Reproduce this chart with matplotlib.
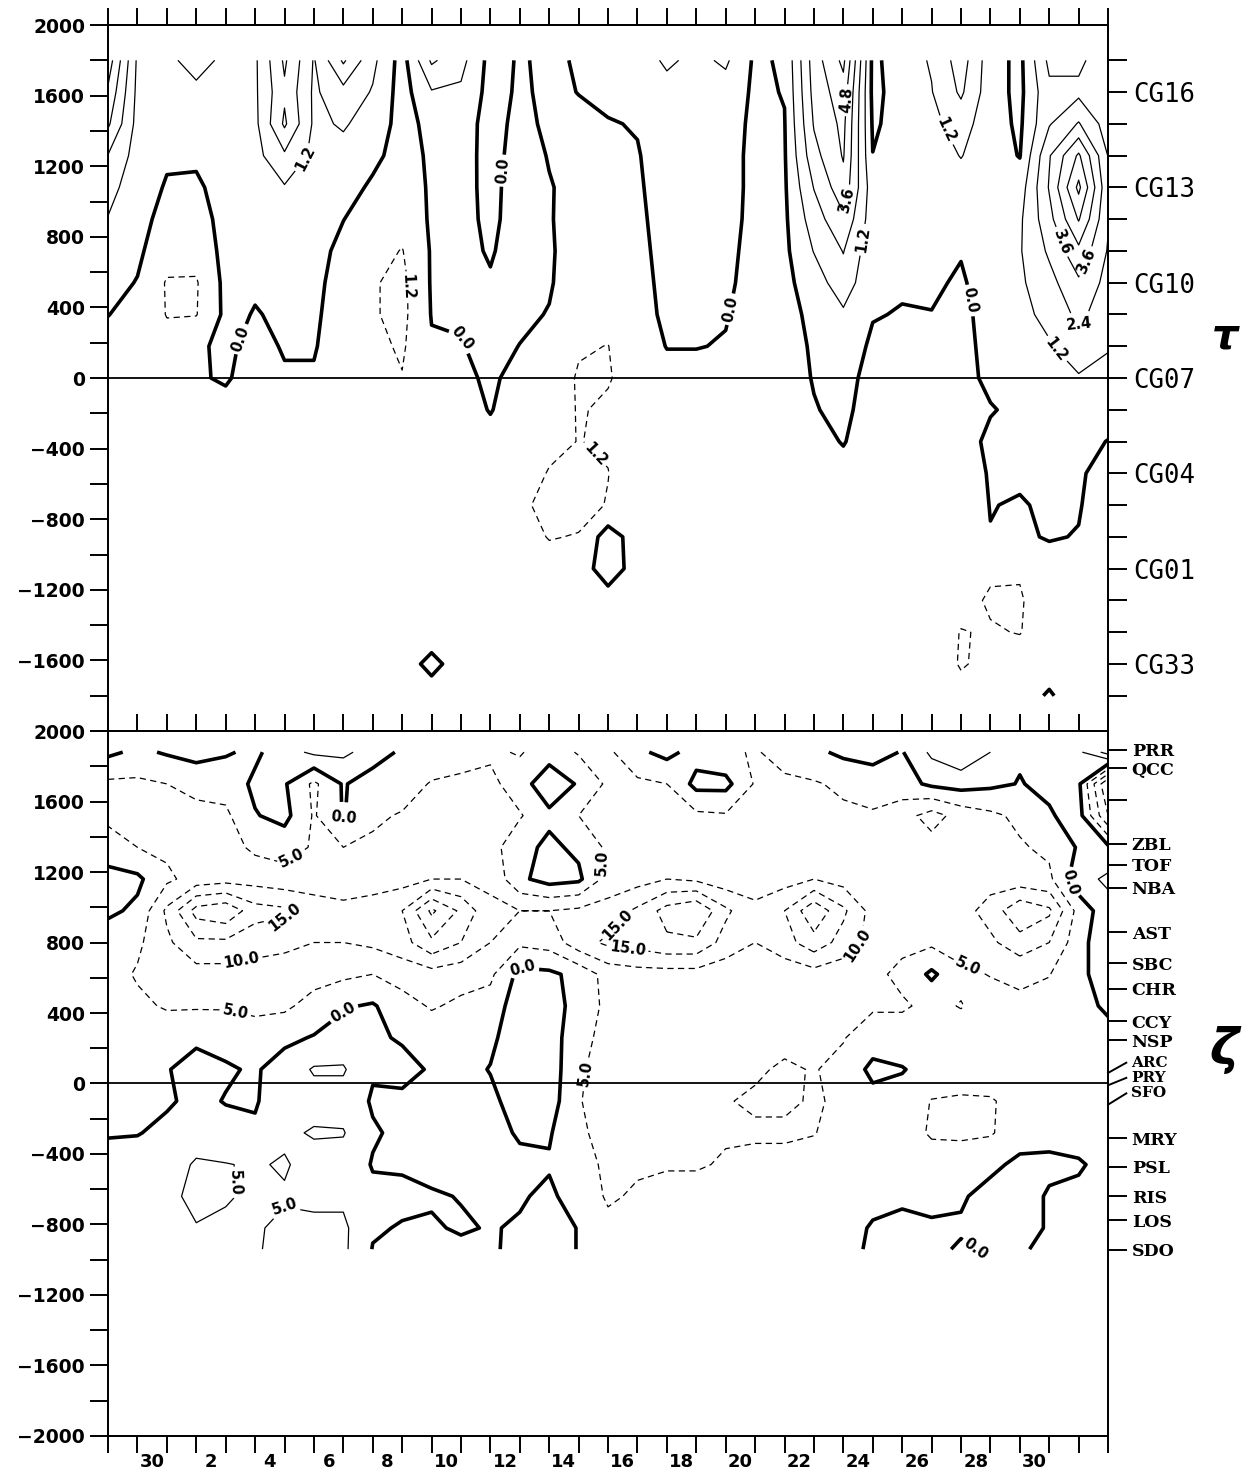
import numpy as np
import matplotlib
matplotlib.use("Agg")
import matplotlib.pyplot as plt

plt.rcParams.update({
    "font.family": "DejaVu Sans", "font.weight": "bold",
    "axes.linewidth": 1.3, "lines.dashed_pattern": [5.0, 3.5],
})

# ---- x axis: tick marks are day boundaries, labels sit mid-interval ----
day_edges = np.arange(0, 35)
day_label_x = np.arange(1.5, 32, 2.0)
day_labels = ["30", "2", "4", "6", "8", "10", "12", "14", "16",
              "18", "20", "22", "24", "26", "28", "30"]

# ---- upper panel (tau), rows at CG stations, one list per day column ----
tau_y = [1800, 1620, 1440, 1260, 1080, 900, 720, 540, 360, 180, 0,
         -180, -360, -540, -720, -900, -1080, -1260, -1440, -1620, -1800]
tau_by_day = [
    [5.5, 4.6, 3.8, 2.35, 1.6, 1.15, 0.7, 0.35, 0.02, -0.3, -0.5, -0.5, -0.5, -0.5, -0.5, -0.5, -0.5, -0.5, -0.5, -0.5, -0.5],
    [1.0, 0.9, 0.8, 0.7, 0.55, 0.4, 0.2, -0.05, -0.3, -0.5, -0.6, -0.6, -0.6, -0.6, -0.6, -0.6, -0.55, -0.5, -0.5, -0.5, -0.5],
    [0.9, 0.8, 0.5, 0.15, -0.1, -0.4, -0.7, -1.3, -1.25, -0.8, -0.6, -0.6, -0.6, -0.6, -0.6, -0.6, -0.6, -0.55, -0.5, -0.5, -0.5],
    [1.7, 0.9, 0.6, 0.2, -0.2, -0.5, -0.8, -1.3, -1.25, -0.15, -0.1, -0.4, -0.5, -0.6, -0.6, -0.6, -0.6, -0.55, -0.5, -0.5, -0.5],
    [0.9, 0.8, 0.7, 0.6, 0.5, 0.4, 0.35, 0.3, 0.25, 0.2, 0.1, -0.3, -0.5, -0.6, -0.6, -0.6, -0.6, -0.55, -0.5, -0.5, -0.5],
    [1.0, 1.0, 0.9, 0.8, 0.6, 0.5, 0.3, 0.12, -0.05, -0.3, -0.4, -0.5, -0.5, -0.6, -0.6, -0.6, -0.6, -0.55, -0.5, -0.5, -0.5],
    [3.8, 3.4, 3.8, 2.2, 1.1, 0.6, 0.3, 0.25, 0.15, 0.08, -0.1, -0.4, -0.5, -0.6, -0.6, -0.6, -0.6, -0.55, -0.5, -0.5, -0.5],
    [1.1, 1.0, 1.0, 0.9, 0.7, 0.5, 0.4, 0.3, 0.2, 0.08, -0.1, -0.4, -0.5, -0.6, -0.6, -0.6, -0.6, -0.55, -0.5, -0.5, -0.5],
    [3.8, 2.0, 1.3, 0.9, 0.5, 0.02, -0.3, -0.5, -0.6, -0.6, -0.6, -0.5, -0.5, -0.6, -0.6, -0.6, -0.6, -0.55, -0.5, -0.5, -0.5],
    [1.5, 1.1, 0.8, 0.3, -0.2, -0.5, -0.8, -1.1, -1.1, -0.9, -0.7, -0.5, -0.5, -0.6, -0.6, -0.6, -0.6, -0.55, -0.5, -0.5, -0.5],
    [-0.5, -0.5, -0.5, -0.5, -0.6, -0.8, -1.25, -1.5, -1.5, -1.35, -1.15, -0.7, -0.6, -0.6, -0.6, -0.6, -0.6, -0.6, -0.5, -0.5, -0.5],
    [2.6, 1.1, 0.4, 0.2, 0.15, 0.15, 0.1, 0.1, 0.05, -0.1, -0.4, -0.5, -0.5, -0.6, -0.6, -0.6, -0.6, -0.6, -0.55, 0.3, -0.5],
    [1.6, 1.0, 0.5, 0.4, 0.35, 0.35, 0.3, 0.3, 0.1, -0.05, -0.2, -0.4, -0.5, -0.6, -0.6, -0.6, -0.6, -0.6, -0.55, -0.5, -0.5],
    [-0.4, -0.4, -0.4, -0.35, -0.3, -0.25, -0.1, 0.1, 0.3, 0.3, 0.15, 0.05, -0.3, -0.5, -0.6, -0.6, -0.6, -0.6, -0.55, -0.5, -0.5],
    [0.1, 0.15, 0.3, 0.4, 0.5, 0.5, 0.5, 0.4, 0.2, -0.02, -0.3, -0.5, -0.6, -0.8, -1.0, -0.8, -0.6, -0.6, -0.55, -0.5, -0.5],
    [-0.2, -0.2, -0.2, -0.05, 0.05, 0.05, 0.1, 0.1, -0.05, -0.3, -0.6, -0.8, -1.0, -1.25, -1.5, -1.25, -0.8, -0.6, -0.55, -0.5, -0.5],
    [0.1, 0.02, -0.2, -0.2, -0.25, -0.3, -0.4, -0.6, -0.9, -1.1, -1.3, -1.25, -1.22, -1.3, -1.5, -1.15, -0.6, -0.5, -0.5, -0.5, -0.5],
    [0.4, 0.2, -0.05, -0.15, -0.2, -0.2, -0.25, -0.4, -0.9, -1.22, -1.25, -1.1, -1.1, -1.22, -1.15, 0.6, 0.6, -0.5, -0.5, -0.5, -0.5],
    [0.6, 0.4, 0.05, -0.05, -0.1, -0.15, -0.2, -0.25, -0.3, -0.5, -0.9, -0.7, -0.6, -0.6, -0.6, -0.6, -0.5, -0.5, -0.5, -0.5, -0.5],
    [1.4, 0.8, 0.5, 0.4, 0.35, 0.3, 0.25, 0.2, 0.15, 0.03, -0.3, -0.5, -0.6, -0.6, -0.6, -0.6, -0.6, -0.5, -0.5, -0.5, -0.5],
    [0.9, 0.6, 0.5, 0.4, 0.4, 0.35, 0.3, 0.25, 0.15, 0.03, -0.3, -0.5, -0.6, -0.6, -0.6, -0.6, -0.6, -0.5, -0.5, -0.5, -0.5],
    [1.4, 0.7, 0.4, 0.3, 0.3, 0.25, 0.2, 0.15, 0.05, -0.05, -0.3, -0.5, -0.6, -0.6, -0.6, -0.6, -0.5, -0.5, -0.5, -0.5, -0.5],
    [-0.2, -0.2, -0.2, -0.2, -0.2, -0.2, -0.25, -0.3, -0.35, -0.4, -0.5, -0.6, -0.6, -0.6, -0.6, -0.6, -0.5, -0.5, -0.5, -0.5, -0.5],
    [0.15, 0.05, -0.05, -0.1, -0.15, -0.2, -0.25, -0.3, -0.35, -0.4, -0.4, -0.4, -0.5, -0.6, -0.6, -0.6, -0.5, -0.5, -0.5, -0.5, -0.5],
    [4.2, 4.0, 3.7, 3.2, 2.45, 1.8, 1.25, 0.6, 0.25, 0.12, 0.05, -0.05, -0.3, -0.5, -0.6, -0.6, -0.5, -0.5, -0.5, -0.5, -0.5],
    [6.3, 5.5, 5.1, 4.9, 4.4, 3.4, 2.45, 1.9, 1.0, 0.5, 0.3, 0.2, 0.05, -0.3, -0.5, -0.6, -0.5, -0.5, -0.5, -0.5, -0.5],
    [-0.3, -0.3, -0.15, 0.02, 0.5, 0.5, 0.35, 0.2, 0.05, -0.15, -0.3, -0.4, -0.5, -0.6, -0.6, -0.6, -0.5, -0.5, -0.5, -0.5, -0.5],
    [0.7, 0.5, 0.4, 0.4, 0.4, 0.35, 0.25, 0.1, -0.05, -0.2, -0.4, -0.5, -0.5, -0.6, -0.6, -0.6, -0.6, -0.5, -0.5, -0.5, -0.5],
    [1.3, 1.15, 0.9, 0.6, 0.5, 0.4, 0.25, 0.12, -0.02, -0.2, -0.4, -0.5, -0.5, -0.5, -0.6, -0.6, -0.6, -0.5, -0.5, -0.5, -0.5],
    [3.0, 2.6, 1.7, 1.25, 0.7, 0.3, 0.05, -0.1, -0.2, -0.2, -0.15, -0.2, -0.2, -0.3, -0.4, -0.5, -0.6, -0.8, -1.25, -1.3, -0.8],
    [0.5, 0.5, 0.5, 0.5, 0.6, 0.6, 0.5, 0.4, 0.3, 0.2, 0.1, -0.03, 0.1, 0.05, 0.02, -0.02, -1.0, -1.35, -1.1, -0.9, -0.6],
    [-0.3, -0.3, -0.2, -0.05, 0.6, 1.0, 1.1, 1.0, 0.9, 0.6, 0.3, 0.1, 0.1, 0.1, -0.05, -0.1, -1.1, -1.3, -1.25, -0.6, -0.4],
    [2.7, 2.1, 2.3, 3.5, 3.7, 3.2, 2.6, 2.0, 1.5, 1.1, 0.5, 0.3, 0.2, 0.15, 0.1, 0.05, -0.3, -0.6, -0.5, -0.4, 0.1],
    [2.7, 2.1, 3.7, 6.2, 7.5, 6.1, 4.5, 3.4, 2.7, 1.8, 1.1, 0.5, 0.2, 0.1, 0.05, -0.03, -0.3, -0.5, -0.5, -0.5, -0.5],
    [1.5, 1.5, 1.8, 2.35, 2.6, 2.5, 2.3, 2.0, 1.7, 1.3, 0.8, 0.3, -0.02, -0.3, -0.4, -0.5, -0.5, -0.5, -0.5, -0.5, -0.5],
]
tau_neg = [-3.6, -2.4, -1.2]
tau_pos = [1.2, 2.4, 3.6, 4.8, 6.0, 7.2, 8.4]

cg_names = ["CG16", "CG13", "CG10", "CG07", "CG04", "CG01", "CG33"]
cg_label_y = [1620, 1080, 540, 0, -540, -1080, -1620]
cg_tick_y = np.arange(-1800, 1801, 180)

# ---- lower panel (zeta), one list per day column ----
zeta_y = [1880, 1700, 1520, 1340, 1160, 980, 800, 620, 440, 260, 80,
          -100, -280, -460, -640, -820, -940]
zeta_by_day = [
    [1, -6, -6, -3, 2, 1, -3, -3, -2, -2, -1.5, -1, -0.3, 1.5, 2, 2, 2],
    [-1, -6, -6.5, -5, 1, -1, -4, -5.5, -4, -2.5, -1.5, -1, -0.2, 2, 2.5, 2, 2],
    [0.5, -5, -7, -6, -4, -11, -9, -6, -5.5, -2, -0.3, -0.5, 1, 3, 4, 3, 2],
    [1.5, -3, -7, -7, -7, -22, -14, -8, -5.5, -1, 2, 1, 3, 5.5, 6, 4.8, 3],
    [0.5, -3, -6, -7, -8, -24, -14, -8, -5.5, -1.5, 0.5, -0.2, 1.5, 5.2, 5.5, 4, 3],
    [-1, 1, -0.3, -4, -8, -17, -12, -8, -6, -3, -0.5, -0.3, 0.5, 4.5, 4, 4.5, 4.5],
    [3, 0.5, 1.5, -3, -7, -16, -11, -8, -6, -1, 2, 2, 4, 5.5, 4.5, 6, 6.5],
    [6, -6, -5.5, -5.5, -8, -12, -10, -7, -3, 0.3, 5.5, 3, 5.5, 3, 4, 6, 6.5],
    [6, 0.5, 0.3, -5, -8, -11, -10, -6, -0.5, 2, 5.5, 3, 5.3, 3, 4, 6, 6],
    [3, -3, -4, -6, -9, -11, -11, -5, 0.5, 0.8, 0.5, -0.5, 0.5, -0.3, 1, 0.5, -0.2],
    [-1, -2, -5.5, -7, -8, -15, -13, -7, -3, -0.5, 1.5, -1, -1, -0.5, 1, -0.3, -0.8],
    [-1, -5.5, -6, -7, -10, -26, -19, -8, -5.5, -2, -0.5, -1.5, -2, -1.5, 0.5, -0.5, -1],
    [-3, -6, -6, -8, -10, -19, -15, -7, -4, -2, -1.5, -2, -2, -1.5, -0.2, 0.5, -1],
    [-4, -6.5, -6, -7, -9, -11, -10, -6, -3, -1, 0.2, -1, -1.5, -1, -0.5, -0.3, -0.5],
    [-5.5, -2, -5.5, -1.5, -1, -10, -6, 1.5, 3, 3, 3, 2, 0.5, -1, -0.5, 0.5, 1],
    [-2, 3, -1, 1, 2, -10, -7, 1, 3, 3, 3, 2.5, 0.5, -0.5, 1, 2, 2],
    [-5.5, -0.5, -5, -1, 1, -11, -13, -1.5, -2.5, -4, -4.5, -4.8, -4.5, -3, -2.5, -0.2, -0.2],
    [-6, -6, -6, -6, -7, -12, -16, -7, -6, -6, -6.5, -6.5, -6, -6, -5.5, -4, -3],
    [-1, -6, -7, -6, -8, -16, -17, -8, -6, -6, -5.5, -5.5, -6, -5.5, -4.5, -3, -2.5],
    [1.5, -5, -6, -7, -10, -22, -19, -8, -6, -5.5, -6, -5.5, -5.2, -5.5, -3, -2, -2],
    [-2, 1.5, -6, -6, -9, -25, -19, -8, -6, -5.5, -6.5, -5.2, -5.5, -5.5, -3, -2, -2],
    [-4, 1.5, -5.5, -6, -7, -16, -13, -7, -5.5, -6, -6, -5.2, -5.5, -4.5, -3, -2, -2],
    [-5.5, -5.5, -6, -7, -8, -11, -10, -6, -6, -6, -5.5, -4.5, -5.5, -4, -3, -2, -2],
    [-3, -6, -5.5, -6, -8, -15, -13, -7, -6, -6, -4.5, -4.5, -5.5, -4, -3, -2, -2],
    [-1, -5.5, -6, -7, -10, -24, -18, -8, -6, -5.5, -5.2, -5.3, -5.2, -3, -2, -2, -2],
    [1, -4, -6, -6, -8, -16, -13, -7, -5.5, -5.2, -4, -4.5, -3, -2, -2, -2, -2],
    [2, -3, -5.5, -5.2, -6, -8, -8, -6, -5.5, -3, 1.5, -2, -3, -2, -1.5, 0.5, 1],
    [-0.3, -2, -8, -6, -9, -7, -6, -4, -5.5, -3, 0.3, -2, -3, -1.5, -1, 1.5, 2],
    [6, 1, -12, -8, -9, -7, -6, 1, -4, -2, -2, -5.2, -5.5, -3, -1, 0.5, 1],
    [9, 2, -8, -6, -9, -8, -7, -4, -5.2, -3, -1, -6, -6, -2, -0.5, 0.5, -0.5],
    [5, 1, -6, -6, -8, -12, -9, -5.2, -3, -2.5, -2, -5.5, -5.5, -1, 1.5, 2, 0.5],
    [0.5, -0.2, -4, -5.5, -7, -19, -13, -6, -4, -2, -2, -3, -2, 1, 2, 2, 0.5],
    [2, 1, -0.5, -4, -6, -16, -10, -5.2, -3, -2, -1.5, -2, -1.5, 1, -0.5, -0.5, -1],
    [4, 1, 2, 0.5, 3, -3, -2, -1, -1, -2, -2, -2, -2, 0.5, -1, -1.5, -1.5],
    [12, -20, -15, 1, 6, 3, 4, 2, 0.5, -1, -2, -2, -2, -1.5, -1.5, -1.5, -1.5],
]
zeta_neg = [-30, -25, -20, -15, -10, -5]
zeta_pos = [5, 10, 15]

# station ticks on the right of the lower panel
coast_names = ["PRR", "QCC", "", "ZBL", "TOF", "NBA", "AST", "SBC", "CHR", "CCY",
               "NSP", "MRY", "PSL", "RIS", "LOS", "SDO"]
coast_y = [1895, 1790, 1606, 1360, 1240, 1112, 857, 681, 539, 352,
           244, -312, -471, -641, -777, -942]
# closely packed stations: slanted ticks (tick y, label y)
packed_names = ["ARC", "PRY", "SFO"]
packed_tick_y = [60, -10, -120]
packed_label_y = [118, 32, -56]

# contour label spots (data coords)
tau_lab_zero = [(4.6, 215), (13.2, 1178), (12.1, 227), (21.3, 385), (29.4, 442)]
tau_lab_pos = [(6.9, 1218), (25.0, 1575), (25.1, 1008), (25.7, 782), (28.5, 1405),
               (32.6, 782), (33.4, 651), (33.4, 255), (32.1, 142)]
tau_lab_neg = [(10.6, 515), (16.9, -380)]
zeta_lab_zero = [(7.8, 1481), (7.9, 443), (14.1, 630), (32.7, 1140), (30.3, -936)]
zeta_lab_pos = [(3.7, -567), (5.9, -681)]
zeta_lab_neg = [(6.4, 1237), (6.3, 885), (4.5, 738), (4.4, 460), (16.3, 1254), (17.0, 953),
                (17.7, 823), (25.4, 800), (29.3, 687), (16.3, 57)]


def fmt(v):
    return f"{abs(v):.1f}"


def draw_field(ax, yrows, cols, neg, pos, lab_neg, lab_zero, lab_pos):
    z = np.array(cols, dtype=float).T[::-1]
    y = np.array(yrows)[::-1]
    cn = ax.contour(day_edges, y, z, levels=neg, colors="k", linewidths=0.9,
                    linestyles="dashed")
    cz = ax.contour(day_edges, y, z, levels=[0.0], colors="k", linewidths=2.6)
    cp = ax.contour(day_edges, y, z, levels=pos, colors="k", linewidths=0.9)
    for cs, spots in ((cn, lab_neg), (cz, lab_zero), (cp, lab_pos)):
        if spots:
            ax.clabel(cs, fmt=fmt, fontsize=10.5, inline=True, inline_spacing=3,
                      manual=spots)


def style_axes(ax, top_panel):
    ax.set_xlim(0, 34)
    ax.set_ylim(-2000, 2000)
    ax.axhline(0, color="k", lw=1.3)
    ax.set_xticks(day_edges)
    if top_panel:
        ax.tick_params(axis="x", which="major", top=True, bottom=False,
                       labeltop=False, labelbottom=False, direction="out",
                       length=12, width=1.4)
        ax.set_yticks(np.arange(-1600, 2001, 400))
    else:
        ax.tick_params(axis="x", which="major", top=True, bottom=True,
                       labeltop=False, labelbottom=False, direction="out",
                       length=12, width=1.4)
        ax.set_xticks(day_label_x, minor=True)
        ax.set_xticklabels(day_labels, minor=True)
        ax.tick_params(axis="x", which="minor", length=0, labelsize=13, pad=12)
        ax.set_yticks(np.arange(-2000, 2001, 400))
    ax.set_yticks(np.arange(-2000, 2001, 200), minor=True)
    ax.tick_params(axis="y", which="both", direction="out", length=13, width=1.4,
                   labelsize=13.5, left=True, right=False)


fig = plt.figure(figsize=(12.46, 14.81), dpi=100)
ax1 = fig.add_axes([0.0867, 0.5064, 0.8026, 0.4767])
ax2 = fig.add_axes([0.0867, 0.0304, 0.8026, 0.4760])

style_axes(ax1, True)
style_axes(ax2, False)
ax1.spines["bottom"].set_visible(False)

draw_field(ax1, tau_y, tau_by_day, tau_neg, tau_pos,
           tau_lab_neg, tau_lab_zero, tau_lab_pos)
draw_field(ax2, zeta_y, zeta_by_day, zeta_neg, zeta_pos,
           zeta_lab_neg, zeta_lab_zero, zeta_lab_pos)

# right-hand station axes
r1 = ax1.twinx()
r1.set_ylim(-2000, 2000)
r1.set_yticks(cg_tick_y)
r1.set_yticklabels([cg_names[cg_label_y.index(v)] if v in cg_label_y else ""
                    for v in cg_tick_y])
r1.tick_params(axis="y", direction="out", length=14, width=1.4, pad=4,
               labelsize=18.5, labelfontfamily="DejaVu Sans Mono")
for t in r1.get_yticklabels():
    t.set_fontweight("normal")
r1.spines["bottom"].set_visible(False)

r2 = ax2.twinx()
r2.set_ylim(-2000, 2000)
r2.set_yticks(coast_y)
r2.set_yticklabels(coast_names)
r2.tick_params(axis="y", direction="out", length=14, width=1.4, pad=3,
               labelsize=12.5, labelfontfamily="DejaVu Serif")
for t in r2.get_yticklabels():
    t.set_fontweight("bold")
for name, ty, ly in zip(packed_names, packed_tick_y, packed_label_y):
    r2.plot([34, 34.62], [ty, ly], color="k", lw=1.4, clip_on=False)
    r2.text(34.78, ly, name, ha="left", va="center", fontsize=11,
            family="DejaVu Serif", fontweight="bold")

fig.text(0.984, 0.773, r"$\tau$", fontsize=30, ha="center", va="center")
fig.text(0.984, 0.291, r"$\zeta$", fontsize=36, ha="center", va="center")

fig.savefig("out.png", dpi=100)
